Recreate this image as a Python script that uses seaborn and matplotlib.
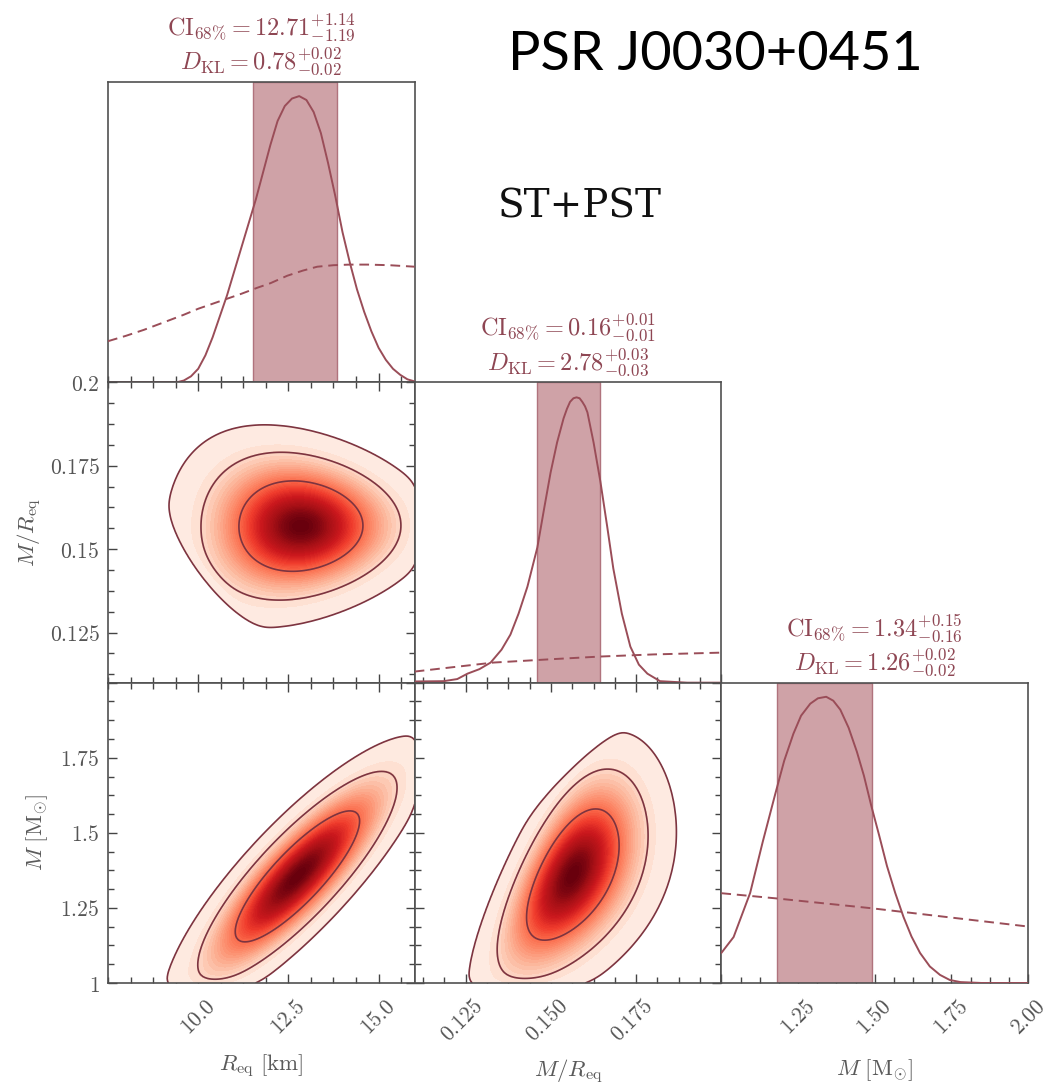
import numpy as np
import matplotlib
matplotlib.use("Agg")
import matplotlib.pyplot as plt
from matplotlib.colors import PowerNorm
from matplotlib.transforms import ScaledTranslation
from matplotlib.ticker import FixedLocator, FixedFormatter, MultipleLocator, NullFormatter
import seaborn as sns

# ---------------- data ----------------
# 1D marginal posteriors (solid) and priors (dashed), heights relative to panel height
R_KM = [7.5, 8.5, 9.0, 9.4, 9.6, 9.8, 10.0, 10.2, 10.4, 10.6, 10.8, 11.0, 11.2, 11.4,
        11.6, 11.8, 12.0, 12.2, 12.4, 12.6, 12.8, 13.0, 13.2, 13.4, 13.6, 13.8, 14.0,
        14.2, 14.4, 14.6, 14.8, 15.0, 15.2, 15.4, 15.6, 15.8, 16.0]
R_POSTERIOR = [0.0, 0.0, 0.0, 0.0, 0.006, 0.02, 0.045, 0.09, 0.15, 0.22, 0.29, 0.37,
               0.45, 0.53, 0.61, 0.70, 0.79, 0.87, 0.92, 0.945, 0.953, 0.94, 0.90,
               0.83, 0.73, 0.62, 0.50, 0.40, 0.31, 0.235, 0.17, 0.115, 0.075, 0.045,
               0.025, 0.01, 0.003]
R_PRIOR_KM = [7.5, 8.0, 8.5, 9.14, 9.6, 10.0, 10.6, 11.2, 11.64, 12.0, 12.47, 12.9,
              13.3, 13.75, 14.2, 14.7, 15.3, 16.0]
R_PRIOR = [0.137, 0.155, 0.175, 0.204, 0.225, 0.245, 0.27, 0.295, 0.315, 0.33, 0.355,
           0.372, 0.385, 0.39, 0.392, 0.392, 0.39, 0.385]

C_VALS = [0.110, 0.1185, 0.1225, 0.1255, 0.1290, 0.1323, 0.1355, 0.1381, 0.1405, 0.1431,
          0.146, 0.148, 0.1499, 0.1518, 0.1537, 0.1547, 0.1556, 0.1566, 0.1575, 0.1584,
          0.1592, 0.1600, 0.1607, 0.1625, 0.1645, 0.1665, 0.1683, 0.1708, 0.1733,
          0.1758, 0.1783, 0.182, 0.19, 0.2]
C_POSTERIOR = [0.004, 0.005, 0.012, 0.03, 0.045, 0.067, 0.11, 0.16, 0.23, 0.32,
               0.45, 0.58, 0.70, 0.80, 0.88, 0.912, 0.935, 0.947, 0.95, 0.947,
               0.935, 0.92, 0.90, 0.80, 0.67, 0.52, 0.38, 0.23, 0.12,
               0.06, 0.03, 0.005, 0.0, 0.0]
C_PRIOR_VALS = [0.110, 0.120, 0.1332, 0.150, 0.1645, 0.180, 0.200]
C_PRIOR = [0.037, 0.05, 0.067, 0.078, 0.087, 0.094, 0.10]

M_VALS = [1.0, 1.04, 1.094, 1.135, 1.176, 1.205, 1.235, 1.26, 1.29, 1.315, 1.342, 1.365,
          1.388, 1.415, 1.442, 1.465, 1.489, 1.515, 1.54, 1.567, 1.594, 1.62, 1.648,
          1.68, 1.713, 1.745, 1.78, 1.85, 2.0]
M_POSTERIOR = [0.10, 0.153, 0.30, 0.47, 0.63, 0.74, 0.83, 0.89, 0.93, 0.948, 0.953, 0.94,
               0.91, 0.85, 0.77, 0.69, 0.59, 0.49, 0.39, 0.30, 0.22, 0.155, 0.10,
               0.055, 0.027, 0.01, 0.003, 0.0, 0.0]
M_PRIOR_VALS = [1.0, 1.176, 1.489, 2.0]
M_PRIOR = [0.299, 0.282, 0.249, 0.188]

# 68% credible bands (edges as drawn) and annotation numbers
R_BAND = (11.52, 13.85)
C_BAND = (0.146, 0.1645)
M_BAND = (1.18, 1.49)
ANNOT = {
    "R": (("12.71", "+1.14", "-1.19"), ("0.78", "+0.02", "-0.02")),
    "C": (("0.16", "+0.01", "-0.01"), ("2.78", "+0.03", "-0.03")),
    "M": (("1.34", "+0.15", "-0.16"), ("1.26", "+0.02", "-0.02")),
}

# joint (R_eq, M) posterior summary
R_CENTRE = 12.75
M_CENTRE = 1.355
R_SPREAD = 1.13
M_SPREAD = 0.143
RM_CORR = 0.845
GM_OVER_C2_KM = 1.4766  # compactness factor: M/R_eq in units of GM_sun/c^2

# axes
R_LIM = (7.5, 16.0)
C_LIM = (0.11, 0.20)
M_LIM = (1.0, 2.0)
R_TICKS, R_TICKLABELS = [10.0, 12.5, 15.0], ["10.0", "12.5", "15.0"]
C_TICKS = [0.125, 0.15, 0.175, 0.2]
C_YLABELS = ["0.125", "0.15", "0.175", "0.2"]
C_XLABELS = ["0.125", "0.150", "0.175", ""]
M_TICKS = [1.0, 1.25, 1.5, 1.75, 2.0]
M_YLABELS = ["1", "1.25", "1.5", "1.75", ""]
M_XLABELS = ["", "1.25", "1.50", "1.75", "2.00"]

# ---------------- style ----------------
LINE = "#9a4d58"
BAND = "#cfa2a7"
BAND_EDGE = "#b0737d"
TEXT = "#8e4653"
CONTOUR = "#7d3440"
SPINE = "#505050"
TICKLAB = "#555555"

sns.set_style("white")
plt.rcParams["mathtext.fontset"] = "cm"
plt.rcParams["font.family"] = ["DejaVu Serif"]

fig = plt.figure(figsize=(10.48, 10.89), dpi=100)
gs = fig.add_gridspec(3, 3, left=108 / 1048, right=1028 / 1048,
                      top=1 - 82 / 1089, bottom=1 - 983 / 1089, wspace=0, hspace=0)

def mt(labels):
    return [("$%s$" % s) if s else "" for s in labels]

def style(ax, diag=False):
    for s in ax.spines.values():
        s.set_color(SPINE)
        s.set_linewidth(1.2)
    ax.tick_params(which="both", direction="in", color="#444444", width=1.0,
                   labelsize=15.5, labelcolor=TICKLAB,
                   top=not diag, right=not diag, left=not diag, bottom=True)
    ax.tick_params(which="major", length=6.5, pad=6)
    ax.tick_params(which="minor", length=4)
    if diag:
        ax.tick_params(which="both", left=False, labelleft=False)

def set_x(ax, lim, ticks, minor, labels=None):
    ax.set_xlim(*lim)
    ax.xaxis.set_major_locator(FixedLocator(ticks))
    ax.xaxis.set_minor_locator(MultipleLocator(minor))
    if labels is None:
        ax.xaxis.set_major_formatter(NullFormatter())
    else:
        ax.xaxis.set_major_formatter(FixedFormatter(mt(labels)))
        ax.tick_params(axis="x", which="major", pad=9)
        shift = ScaledTranslation(6 / 100, 0, fig.dpi_scale_trans)
        for tk in ax.xaxis.get_major_ticks():
            lab = tk.label1
            lab.set_rotation(45)
            lab.set_ha("right")
            lab.set_va("top")
            lab.set_rotation_mode("anchor")
            lab.set_transform(lab.get_transform() + shift)

def set_y(ax, lim, ticks, minor, labels=None):
    ax.set_ylim(*lim)
    ax.yaxis.set_major_locator(FixedLocator(ticks))
    ax.yaxis.set_minor_locator(MultipleLocator(minor))
    if labels is None:
        ax.yaxis.set_major_formatter(NullFormatter())
    else:
        ax.yaxis.set_major_formatter(FixedFormatter(mt(labels)))

# joint posterior on a grid, used as weighted points for seaborn's KDE
rg = np.linspace(R_LIM[0], R_LIM[1], 86)
mg = np.linspace(M_LIM[0], M_LIM[1], 81)
RR, MM = np.meshgrid(rg, mg)
zr = (RR - R_CENTRE) / R_SPREAD
zm = (MM - M_CENTRE) / M_SPREAD
q = (zr ** 2 - 2 * RM_CORR * zr * zm + zm ** 2) / (1 - RM_CORR ** 2)
W = np.exp(-0.5 * q)
keep = W > 1e-6 * W.max()
pts_R = RR[keep]
pts_M = MM[keep]
pts_C = GM_OVER_C2_KM * pts_M / pts_R
pts_W = W[keep]

LEVELS = [0.003, 0.046, 0.317]

def density(ax, x, y, xlim, ylim):
    clip = (xlim, ylim)
    sns.kdeplot(x=x, y=y, weights=pts_W, ax=ax, fill=True, levels=50, thresh=0.003,
                cmap="Reds", norm=PowerNorm(0.62), bw_adjust=0.5, gridsize=140, clip=clip)
    sns.kdeplot(x=x, y=y, weights=pts_W, ax=ax, fill=False, levels=LEVELS,
                colors=[CONTOUR], linewidths=1.2, bw_adjust=0.5, gridsize=140, clip=clip)

def diag_panel(ax, xs, post, pxs, prior, band, key):
    ax.axvspan(band[0], band[1], facecolor=BAND, edgecolor=BAND_EDGE, lw=1.0, zorder=1)
    sns.lineplot(x=xs, y=post, ax=ax, color=LINE, lw=1.4, zorder=3)
    sns.lineplot(x=pxs, y=prior, ax=ax, color=LINE, lw=1.4, ls=(0, (5, 3)), zorder=3)
    ax.set_ylim(0, 1)
    (ci, cip, cim), (dk, dkp, dkm) = ANNOT[key]
    txt = (r"$\mathrm{CI}_{68\%%} = %s_{%s}^{%s}$" % (ci, cim, cip)
           + "\n" + r"$D_{\mathrm{KL}} = %s_{%s}^{%s}$" % (dk, dkm, dkp))
    ax.text(0.5, 1.015, txt, transform=ax.transAxes, ha="center", va="bottom",
            color=TEXT, fontsize=17.5, linespacing=1.12)
    ax.set_xlabel("")
    ax.set_ylabel("")

# ---- row 1
ax11 = fig.add_subplot(gs[0, 0])
diag_panel(ax11, R_KM, R_POSTERIOR, R_PRIOR_KM, R_PRIOR, R_BAND, "R")
style(ax11, diag=True)
set_x(ax11, R_LIM, R_TICKS, 0.625)

# ---- row 2
ax21 = fig.add_subplot(gs[1, 0])
density(ax21, pts_R, pts_C, R_LIM, C_LIM)
style(ax21)
set_x(ax21, R_LIM, R_TICKS, 0.625)
set_y(ax21, C_LIM, C_TICKS, 0.00625, C_YLABELS)

ax22 = fig.add_subplot(gs[1, 1])
diag_panel(ax22, C_VALS, C_POSTERIOR, C_PRIOR_VALS, C_PRIOR, C_BAND, "C")
style(ax22, diag=True)
set_x(ax22, C_LIM, C_TICKS, 0.00625)

# ---- row 3
ax31 = fig.add_subplot(gs[2, 0])
density(ax31, pts_R, pts_M, R_LIM, M_LIM)
style(ax31)
set_x(ax31, R_LIM, R_TICKS, 0.625, R_TICKLABELS)
set_y(ax31, M_LIM, M_TICKS, 0.0625, M_YLABELS)

ax32 = fig.add_subplot(gs[2, 1])
density(ax32, pts_C, pts_M, C_LIM, M_LIM)
style(ax32)
set_x(ax32, C_LIM, C_TICKS, 0.00625, C_XLABELS)
set_y(ax32, M_LIM, M_TICKS, 0.0625)

ax33 = fig.add_subplot(gs[2, 2])
diag_panel(ax33, M_VALS, M_POSTERIOR, M_PRIOR_VALS, M_PRIOR, M_BAND, "M")
style(ax33, diag=True)
set_x(ax33, M_LIM, M_TICKS, 0.0625, M_XLABELS)

for a in (ax21, ax31, ax32):
    a.set_xlabel("")
    a.set_ylabel("")

LAB = dict(fontsize=16.5, color="#5a5a5a")
ax31.set_xlabel(r"$R_{\mathrm{eq}}\ [\mathrm{km}]$", labelpad=10, **LAB)
ax32.set_xlabel(r"$M/R_{\mathrm{eq}}$", labelpad=8, **LAB)
ax33.set_xlabel(r"$M\ [\mathrm{M}_{\odot}]$", labelpad=13, **LAB)
ax21.set_ylabel(r"$M/R_{\mathrm{eq}}$", **LAB)
ax31.set_ylabel(r"$M\ [\mathrm{M}_{\odot}]$", **LAB)
ax21.yaxis.set_label_coords(-0.21, 0.5)
ax31.yaxis.set_label_coords(-0.19, 0.5)

fig.text(508 / 1048, 1 - 70 / 1089, "PSR J0030+0451", family="Lato", fontsize=39,
         color="black", ha="left", va="baseline")
fig.text(498 / 1048, 1 - 217 / 1089, "ST+PST", family="DejaVu Serif", fontsize=28,
         color="#111111", ha="left", va="baseline")

fig.savefig("out.png", dpi=100)
